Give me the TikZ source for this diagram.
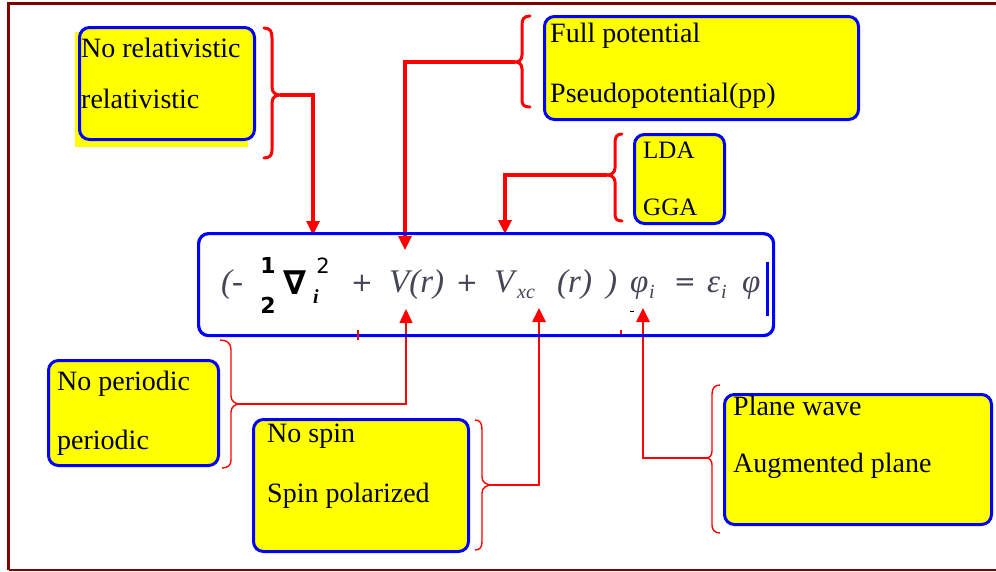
\documentclass[tikz,border=0pt]{standalone}
\usepackage{fontspec}
\setmainfont{Liberation Serif}
\newfontfamily\dvs{DejaVu Sans}
\newfontfamily\eqserif{Liberation Serif}
\usetikzlibrary{arrows.meta}
\definecolor{framec}{HTML}{800000}
\definecolor{bblue}{HTML}{0000FF}
\definecolor{byellow}{HTML}{FFFF00}
\definecolor{bred}{HTML}{FF0000}
\definecolor{eqgray}{HTML}{454558}
\begin{document}
\begin{tikzpicture}[x=1pt,y=-1pt,
  optbox/.style={draw=bblue,line width=3pt,fill=byellow,rounded corners=10pt,anchor=north west,inner sep=0pt},
  lbl/.style={anchor=base west,inner sep=0pt,font=\fontsize{28}{32}\selectfont},
  smalllbl/.style={anchor=base west,inner sep=0pt,font=\fontsize{25}{28}\selectfont},
  thickbrace/.style={draw=bred,line width=3pt,line join=round,line cap=round},
  thinbrace/.style={draw=bred,line width=1.4pt,line join=round},
  conn/.style={draw=bred,-{Triangle[width=13pt,length=14pt]}},
  eq/.style={anchor=base west,inner sep=0pt,text=eqgray,font=\eqserif\fontsize{33}{36}\selectfont\itshape},
  eqsub/.style={anchor=base west,inner sep=0pt,text=eqgray,font=\eqserif\fontsize{20}{22}\selectfont\itshape},
  eqop/.style={anchor=center,inner sep=0pt,text=eqgray,font=\dvs\fontsize{26}{28}\selectfont},
  eqblack/.style={anchor=center,inner sep=0pt,text=black,font=\dvs\bfseries\fontsize{22}{24}\selectfont},
]
\useasboundingbox (0,0) rectangle (996,571);
\fill[white] (0,0) rectangle (996,571);
% frame
\draw[framec,line width=3pt] (996,3.5) -- (8.5,3.5) -- (8.5,569.5);
\draw[framec,line width=2pt] (8.5,569.5) -- (996,569.5);

% option boxes
\fill[byellow] (75,32) rectangle (248,147);
\node[optbox,minimum width=175pt,minimum height=112pt] (b1) at (78,26) {};
\node[optbox,minimum width=314pt,minimum height=103pt] (b2) at (543,15) {};
\node[optbox,minimum width=90pt,minimum height=89pt] (b3) at (633,133) {};
\node[optbox,minimum width=170pt,minimum height=105pt] (b4) at (47,359) {};
\node[optbox,minimum width=215pt,minimum height=132pt] (b5) at (252,418) {};
\node[optbox,minimum width=267pt,minimum height=130pt] (b6) at (723,393) {};

% labels
\node[lbl] (t1a) at (81,57) {No relativistic};
\node[lbl] (t1b) at (81,108) {relativistic};
\node[lbl] (t2a) at (550,42) {Full potential};
\node[lbl] (t2b) at (550,102) {Pseudopotential(pp)};
\node[smalllbl] (t3a) at (643,158) {LDA};
\node[smalllbl] (t3b) at (643,215) {GGA};
\node[lbl] (t4a) at (57,390) {No periodic};
\node[lbl] (t4b) at (57,449) {periodic};
\node[lbl] (t5a) at (267,442) {No spin};
\node[lbl] (t5b) at (267,502) {Spin polarized};
\node[lbl] (t6a) at (733,415) {Plane wave};
\node[lbl] (t6b) at (733,472) {Augmented plane};

% braces
\draw[thickbrace] (264,28) .. controls (270,28) and (272,31) .. (272,38) -- (272,87)
  .. controls (272,92) and (275,95) .. (280,95) .. controls (275,95) and (272,98) .. (272,103)
  -- (272,150) .. controls (272,155) and (270,158) .. (264,158);
\coordinate (br1) at (280,95);
\draw[thickbrace] (530,16) .. controls (524,16) and (522,19) .. (522,25) -- (522,55)
  .. controls (522,60) and (519,62) .. (515,62) .. controls (519,62) and (522,64) .. (522,69)
  -- (522,100) .. controls (522,105) and (524,107) .. (530,107);
\coordinate (br2) at (515,62);
\draw[thickbrace] (622,134) .. controls (617,134) and (615,137) .. (615,142) -- (615,168)
  .. controls (615,172) and (612,175) .. (607,175) .. controls (612,175) and (615,178) .. (615,182)
  -- (615,214) .. controls (615,219) and (617,221) .. (622,221);
\coordinate (br3) at (607,175);
\draw[thinbrace] (220,340) .. controls (227,340) and (231,343) .. (231,350) -- (231,396)
  .. controls (231,401) and (235,404) .. (240,404) .. controls (235,404) and (231,407) .. (231,412)
  -- (231,460) .. controls (231,465) and (228,468) .. (222,468);
\coordinate (br4) at (240,404);
\draw[thinbrace] (475,420) .. controls (480,420) and (482,423) .. (482,430) -- (482,477)
  .. controls (482,482) and (486,485) .. (492,485) .. controls (486,485) and (482,488) .. (482,493)
  -- (482,542) .. controls (482,547) and (480,550) .. (475,550);
\coordinate (br5) at (492,485);
\draw[thinbrace] (720,385) .. controls (715,385) and (712,388) .. (712,394) -- (712,451)
  .. controls (712,455) and (710,458) .. (706,458) .. controls (710,458) and (712,461) .. (712,465)
  -- (712,525) .. controls (712,530) and (715,533) .. (720,533);
\coordinate (br6) at (706,458);

% arrow targets
\coordinate (a1) at (313,235);
\coordinate (a2) at (405,250);
\coordinate (a3) at (505,234);
\coordinate (a4) at (406,309);
\coordinate (a5) at (539,308);
\coordinate (a6) at (643,308);

% connectors
\draw[conn,line width=3.2pt] (br1) -| (a1);
\draw[conn,line width=3.1pt] (br2) -| (a2);
\draw[conn,line width=3.2pt] (br3) -| (a3);
\draw[conn,line width=1.5pt] (br4) -| (a4);
\draw[conn,line width=2.6pt] (br5) -| (a5);
\draw[conn,line width=2.9pt] (br6) -| (a6);

% main equation box
\node[draw=bblue,line width=3.2pt,rounded corners=10pt,anchor=north west,inner sep=0pt,
  minimum width=575pt,minimum height=102pt] (mainbox) at (197,232) {};
\draw[bblue,line width=2.5pt] (767.5,262) -- (767.5,316);

\begin{scope}
\clip (197,232) rectangle (766,334);
\node[eq] (e1) at (221,292) {(-};
\node[eqblack] (e2) at (268,265) {1};
\node[eqblack] (e3) at (268,305) {2};
\node[anchor=base west,inner sep=0pt,text=black,font=\dvs\bfseries\itshape\fontsize{33}{34}\selectfont] (e4) at (283,294) {∇};
\node[anchor=center,inner sep=0pt,text=black,font=\dvs\fontsize{21}{24}\selectfont] (e5) at (323,266) {2};
\node[eqsub,text=black,font=\eqserif\bfseries\itshape\fontsize{20}{22}\selectfont] (e6) at (313,303) {i};
\node[eqop] (e7) at (362,283) {+};
\node[eq] (e8) at (389,292) {V(r)};
\node[eqop] (e9) at (467,283) {+};
\node[eq] (e10) at (494,292) {V};
\node[eqsub] (e11) at (517,298) {xc};
\node[eq] (e12) at (557,292) {(r)};
\node[eq] (e13) at (606,292) {)};
\node[eq] (e14) at (630,292) {φ};
\node[eqsub] (e15) at (649,298) {i};
\node[eqop] (e16) at (685,285) {=};
\node[eq] (e17) at (707,292) {ε};
\node[eqsub] (e18) at (721,298) {i};
\node[eq] (e19) at (742,292) {φ};
\end{scope}

% small marks
\draw[bred,line width=1.3pt] (358,330) -- (358,340);
\draw[bred,line width=1.3pt] (621,330) -- (621,334);
\draw[black,line width=1pt] (630,311) -- (634,311);
\end{tikzpicture}
\end{document}
